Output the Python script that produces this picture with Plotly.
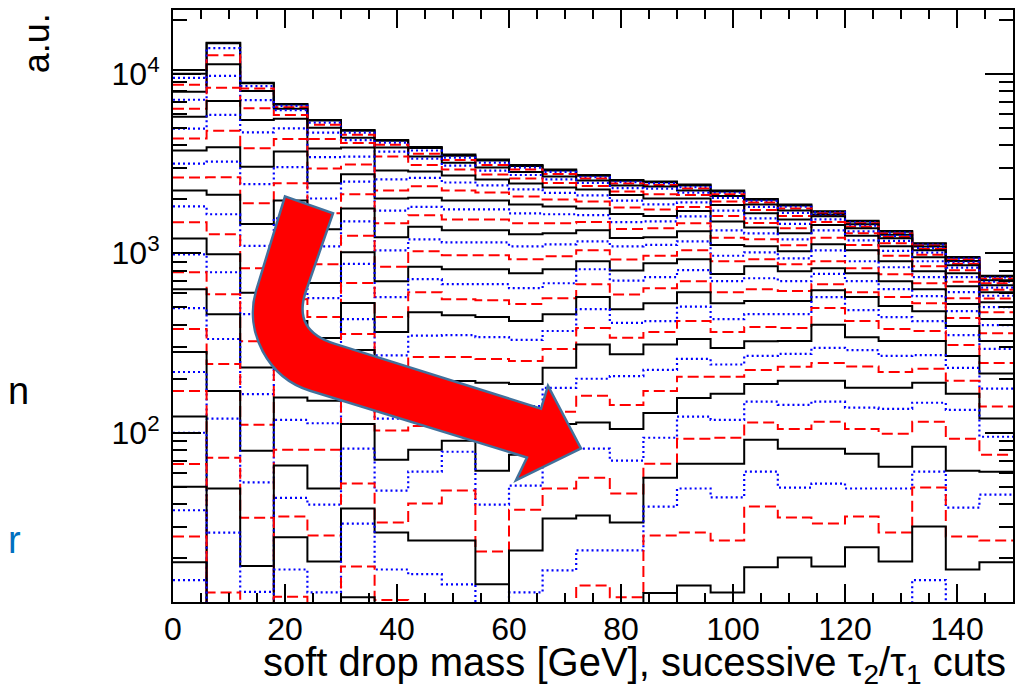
import plotly.graph_objects as go

# ---------------- data ----------------
bin_edges = [0, 6, 12, 18, 24, 30, 36, 42, 48, 54, 60, 66, 72, 78, 84, 90,
             96, 102, 108, 114, 120, 126, 132, 138, 144, 150]

# successive tau2/tau1 cuts (cut00 = loosest), values per 6 GeV bin
cut00 = [10500, 14900, 8910, 6790, 5530, 4870, 4280, 3910, 3550, 3330, 3100, 2930, 2730, 2560, 2510, 2420, 2240, 2010, 1870, 1716, 1520, 1329, 1139, 955, 750]
cut01 = [10000, 14800, 8860, 6745, 5500, 4820, 4240, 3860, 3500, 3290, 3060, 2890, 2700, 2535, 2490, 2385, 2210, 1990, 1848, 1705, 1505, 1317, 1129, 945, 742]
cut02 = [9500, 13900, 8550, 6620, 5340, 4700, 4140, 3740, 3415, 3200, 3005, 2840, 2660, 2495, 2450, 2340, 2175, 1957, 1817, 1690, 1487, 1303, 1118, 933, 733]
cut03 = [8690, 12700, 8290, 6515, 5210, 4580, 4030, 3590, 3310, 3100, 2930, 2765, 2610, 2450, 2400, 2295, 2135, 1920, 1778, 1668, 1468, 1287, 1104, 920, 722]
cut04 = [7940, 11300, 8020, 6390, 5010, 4410, 3880, 3460, 3200, 3005, 2840, 2680, 2545, 2390, 2355, 2240, 2085, 1872, 1733, 1647, 1450, 1270, 1090, 906, 708]
cut05 = [7170, 9750, 7140, 6280, 4700, 4270, 3690, 3370, 3080, 2890, 2730, 2580, 2465, 2305, 2290, 2180, 2035, 1813, 1679, 1630, 1425, 1251, 1073, 891, 694]
cut06 = [6390, 8360, 6420, 5900, 4330, 4110, 3460, 3100, 2930, 2750, 2610, 2465, 2370, 2210, 2135, 2115, 1945, 1745, 1616, 1616, 1404, 1232, 1057, 874, 681]
cut07 = [5770, 7050, 5530, 5620, 3830, 3880, 2890, 2860, 2710, 2580, 2450, 2325, 2270, 2115, 2020, 2020, 1858, 1670, 1545, 1606, 1377, 1212, 1039, 858, 664]
cut08 = [4950, 5900, 4720, 4970, 3430, 3460, 2580, 2630, 2480, 2390, 2270, 2170, 2105, 1963, 1872, 1920, 1730, 1565, 1458, 1545, 1326, 1173, 1009, 831, 643]
cut09 = [4360, 4820, 3850, 4340, 2970, 3120, 2240, 2365, 2240, 2180, 2074, 1995, 1945, 1800, 1756, 1813, 1616, 1477, 1377, 1496, 1292, 1136, 981, 805, 627]
cut10 = [3740, 3900, 3040, 3690, 2455, 2760, 2020, 2040, 1970, 1970, 1872, 1825, 1778, 1653, 1616, 1722, 1505, 1394, 1292, 1438, 1251, 1094, 950, 774, 607]
cut11 = [3160, 3245, 2430, 3020, 2020, 2510, 1730, 1813, 1756, 1756, 1670, 1650, 1630, 1492, 1505, 1606, 1342, 1292, 1196, 1342, 1181, 1032, 903, 736, 580]
cut12 = [2640, 2650, 1900, 2460, 1670, 2135, 1470, 1630, 1545, 1545, 1470, 1470, 1492, 1365, 1377, 1470, 1221, 1196, 1108, 1221, 1113, 969, 847, 694, 559]
cut13 = [2240, 2120, 1455, 1970, 1360, 1778, 1230, 1404, 1342, 1342, 1275, 1292, 1342, 1216, 1227, 1326, 1113, 1094, 1026, 1122, 1039, 903, 795, 656, 534]
cut14 = [1825, 1650, 1100, 1565, 1094, 1505, 1039, 1196, 1151, 1151, 1094, 1122, 1166, 1094, 1113, 1166, 969, 1013, 938, 1039, 903, 836, 736, 607, 501]
cut15 = [1490, 1275, 826, 1210, 869, 1251, 841, 1026, 975, 975, 926, 962, 1039, 923, 969, 1039, 903, 926, 869, 903, 826, 764, 681, 562, 470]
cut16 = [1210, 987, 602, 938, 684, 1013, 699, 841, 815, 815, 774, 815, 903, 801, 880, 926, 767, 847, 795, 826, 774, 699, 631, 521, 430]
cut17 = [987, 784, 458, 726, 562, 874, 570, 717, 673, 673, 639, 681, 815, 705, 736, 805, 699, 726, 699, 767, 699, 631, 577, 476, 398]
cut18 = [784, 592, 324, 555, 441, 683, 441, 607, 555, 548, 521, 562, 673, 590, 639, 699, 607, 631, 616, 673, 607, 570, 527, 436, 359]
cut19 = [631, 458, 231, 419, 337, 529, 364, 470, 452, 441, 419, 458, 570, 487, 527, 607, 527, 542, 542, 623, 570, 508, 476, 394, 325]
cut20 = [495, 333, 164, 316, 261, 430, 270, 348, 350, 341, 329, 369, 489, 410, 419, 504, 430, 458, 458, 570, 482, 441, 419, 350, 293]
cut21 = [378, 242, 111, 227, 200, 355, 200, 264, 264, 258, 251, 293, 383, 338, 364, 419, 364, 388, 383, 495, 419, 378, 369, 308, 245]
cut22 = [282, 171, 79.4, 157, 151, 289, 145, 200, 194, 190, 187, 230, 310, 274, 310, 333, 297, 324, 325, 400, 341, 325, 325, 268, 214]
cut23 = [218, 120, 52.9, 118, 113, 221, 120, 151, 141, 136, 141, 178, 200, 207, 224, 258, 240, 268, 275, 297, 289, 268, 271, 230, 176]
cut24 = [171, 72.6, 33.6, 80.4, 80.4, 161, 103, 109, 109, 92.6, 103, 131, 161, 143, 171, 205, 205, 224, 233, 245, 234, 218, 227, 195, 140]
cut25 = [123, 48.9, 18.1, 65.6, 48.9, 112, 70.8, 80.4, 90.3, 61.5, 75.5, 112, 114, 105, 129, 156, 165, 187, 195, 195, 178, 178, 190, 165, 120]
cut26 = [100, 27.8, 13.0, 43.4, 39.8, 81.5, 47.6, 60.7, 78.4, 39.8, 50.8, 81.5, 81.5, 70, 93.8, 123, 118, 149, 143, 149, 138, 136, 147, 134, 95]
cut27 = [67, 12.9, 8, 34.1, 26.8, 52.1, 31.6, 40.3, 47.6, 21.8, 37.3, 48.9, 56.2, 45.8, 67.3, 92.6, 93.8, 114, 105, 115, 105, 98.7, 115, 92.6, 75.5]
cut28 = [50, 8, 8, 26.2, 19.2, 37.8, 27.8, 25.1, 25.1, 14.3, 22.1, 33.3, 34.6, 31.6, 56.2, 67.3, 67.3, 91.4, 81.5, 81.5, 76.4, 64.7, 83.6, 61.5, 60.7]
cut29 = [37, 8, 8, 17.3, 12.9, 31.2, 17.3, 16.3, 14.3, 8, 12.9, 17.1, 22.1, 22.1, 38.8, 48.9, 43.6, 60.7, 49.5, 52.1, 48.9, 48.9, 60.7, 38.3, 45.2]
cut30 = [26.4, 8, 8, 12.2, 8, 18.0, 11.7, 8, 8, 8, 8, 8, 14.1, 12.1, 26.8, 27.8, 25.1, 38.8, 33.7, 31.2, 34.1, 27.8, 49.5, 26.4, 25.1]
cut31 = [19.0, 8, 8, 8, 8, 12.1, 8, 8, 8, 8, 8, 8, 8, 8, 12.8, 14.1, 12.9, 17.8, 20.2, 18.0, 23.0, 19.2, 30.0, 17.3, 19.0]
cut32 = [15.1, 8, 8, 8, 8, 8, 8, 8, 8, 8, 8, 8, 8, 8, 8, 8, 8, 8, 8, 8, 8, 8, 15.1, 8, 8]

cuts = [cut00, cut01, cut02, cut03, cut04, cut05, cut06, cut07, cut08, cut09,
        cut10, cut11, cut12, cut13, cut14, cut15, cut16, cut17, cut18, cut19,
        cut20, cut21, cut22, cut23, cut24, cut25, cut26, cut27, cut28, cut29,
        cut30, cut31, cut32]

x_tick_vals = [0, 20, 40, 60, 80, 100, 120, 140]
y_tick_vals = [100, 1000, 10000]
y_tick_text = ["10<sup>2</sup>", "10<sup>3</sup>", "10<sup>4</sup>"]

x_title = "soft drop mass [GeV], sucessive \u03c4<sub>2</sub>/\u03c4<sub>1</sub> cuts"
y_title = "a.u."

# ---------------- styles ----------------
styles = [
    dict(color="#000000", width=2.0, dash="solid"),
    dict(color="#0000FF", width=2.2, dash="2px,3px"),
    dict(color="#FF0000", width=2.0, dash="11px,5px"),
]

fig = go.Figure()
for i, vals in enumerate(cuts):
    st = styles[0] if i == 0 else styles[(i - 1) % 3]
    fig.add_trace(go.Scatter(
        x=bin_edges, y=vals + [vals[-1]],
        mode="lines", line=dict(shape="hv", **st),
        hoverinfo="skip", showlegend=False,
    ))

FONT = "Liberation Sans, Arial, Helvetica, sans-serif"

# page body has an 8px margin; figure sized so the plot frame lands at
# x 173..1013, y 8..602 of the 1027x686 window
fig.update_layout(
    width=1019, height=678,
    margin=dict(l=165, r=14, t=0, b=84),
    paper_bgcolor="white", plot_bgcolor="white",
    showlegend=False,
    font=dict(family=FONT, color="black"),
)

fig.update_xaxes(
    range=[0, 150], tickmode="array", tickvals=x_tick_vals,
    ticks="inside", ticklen=18, tickwidth=2, tickcolor="black",
    showline=True, linewidth=2, linecolor="black", mirror="allticks",
    showgrid=False, zeroline=False,
    tickfont=dict(size=32, family=FONT, color="black"),
    ticklabelstandoff=-2,
    minor=dict(ticks="inside", ticklen=9, tickwidth=1.5, tickcolor="black",
               tickmode="linear", tick0=0, dtick=5, showgrid=False),
)

fig.update_yaxes(
    type="log", range=[1.057, 4.3556],
    tickmode="array", tickvals=y_tick_vals, ticktext=y_tick_text,
    ticks="inside", ticklen=28, tickwidth=2, tickcolor="black",
    showline=True, linewidth=2, linecolor="black", mirror="allticks",
    showgrid=False, zeroline=False,
    tickfont=dict(size=32, family=FONT, color="black"),
    ticklabelstandoff=5,
    minor=dict(ticks="inside", ticklen=14, tickwidth=1.5, tickcolor="black",
               dtick="D1", showgrid=False),
)

# axis titles (ROOT style: right / top aligned)
fig.add_annotation(text=x_title, xref="paper", yref="paper",
                   x=0.994, y=-0.1060, xanchor="right", yanchor="middle",
                   showarrow=False, font=dict(size=40, family=FONT, color="black"))
fig.add_annotation(text=y_title, xref="paper", yref="paper",
                   x=-0.163, y=0.944, xanchor="center", yanchor="middle",
                   textangle=-90, showarrow=False,
                   font=dict(size=36, family=FONT, color="black"))

# fragments of slide text at the left edge
fig.add_annotation(text="n", xref="paper", yref="paper", x=-0.1835, y=0.357,
                   xanchor="center", yanchor="middle", showarrow=False,
                   font=dict(size=38, family=FONT, color="black"))
fig.add_annotation(text="r", xref="paper", yref="paper", x=-0.1890, y=0.104,
                   xanchor="center", yanchor="middle", showarrow=False,
                   font=dict(size=38, family=FONT, color="#0070C0"))

# curved red arrow overlay (paper coordinates)
def P(X, Y):
    return f"{(X - 173) / 840:.4f},{(602 - Y) / 594:.4f}"

arrow_path = (
    f"M {P(285,195)} L {P(333,212)} L {P(306,290)} "
    f"Q {P(292,330)} {P(335,343)} "
    f"L {P(541,408)} L {P(548,385)} L {P(581,448)} L {P(516,480)} L {P(527,457)} "
    f"L {P(310,390)} C {P(268,377)} {P(244,331)} {P(256,290)} Z"
)
fig.add_shape(type="path", path=arrow_path, xref="paper", yref="paper",
              fillcolor="#FF0000", line=dict(color="#41719C", width=2.5),
              layer="above")

fig.write_html("out.html")
